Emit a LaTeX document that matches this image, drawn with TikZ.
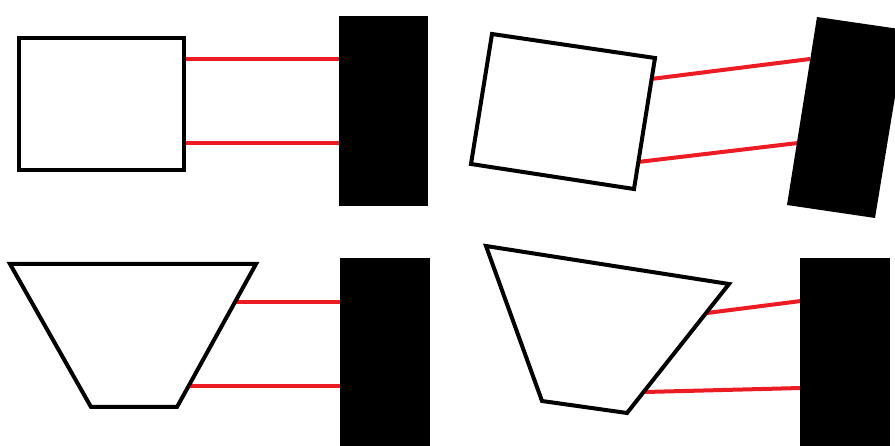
\documentclass[tikz,border=0pt]{standalone}
\definecolor{paintred}{RGB}{237,28,36}
\tikzset{
  shapeline/.style={draw=black, line width=4pt, fill=white, line join=miter},
  block/.style={fill=black, draw=none},
  tie/.style={draw=paintred, line width=4pt}
}
\begin{document}
\begin{tikzpicture}[x=1pt,y=-1pt]
\useasboundingbox (0,0) rectangle (895,446);
\clip (0,0) rectangle (895,446);
% ---------- top left ----------
\coordinate (a1) at (182,59);  \coordinate (b1) at (340,59);
\coordinate (a2) at (182,143); \coordinate (b2) at (340,143);
\draw[tie] (a1) -- (b1);
\draw[tie] (a2) -- (b2);
\draw[shapeline] (19,38) rectangle (184,170);
\fill[block] (339,16) rectangle (428,206);
% ---------- top right ----------
\coordinate (c1) at (651,79);  \coordinate (d1) at (810,59);
\coordinate (c2) at (638,162); \coordinate (d2) at (798,143);
\draw[tie] (c1) -- (d1);
\draw[tie] (c2) -- (d2);
\draw[shapeline] (492,34) -- (655,58) -- (634,189) -- (471,164) -- cycle;
\fill[block] (817,17) -- (906,30) -- (875,218) -- (787,205) -- cycle;
% ---------- bottom left ----------
\coordinate (e1) at (234,302); \coordinate (f1) at (341,302);
\coordinate (e2) at (189,386); \coordinate (f2) at (341,386);
\draw[tie] (e1) -- (f1);
\draw[tie] (e2) -- (f2);
\draw[shapeline] (10,264) -- (256,264) -- (177,407) -- (91,407) -- cycle;
\fill[block] (340,258) rectangle (430,446);
% ---------- bottom right ----------
\coordinate (g1) at (707,313); \coordinate (h1) at (801,301);
\coordinate (g2) at (645,392); \coordinate (h2) at (801,388);
\draw[tie] (g1) -- (h1);
\draw[tie] (g2) -- (h2);
\draw[shapeline] (486,246) -- (729,284) -- (627,413) -- (542,401) -- cycle;
\fill[block] (800,258) rectangle (890,446);
\end{tikzpicture}
\end{document}
